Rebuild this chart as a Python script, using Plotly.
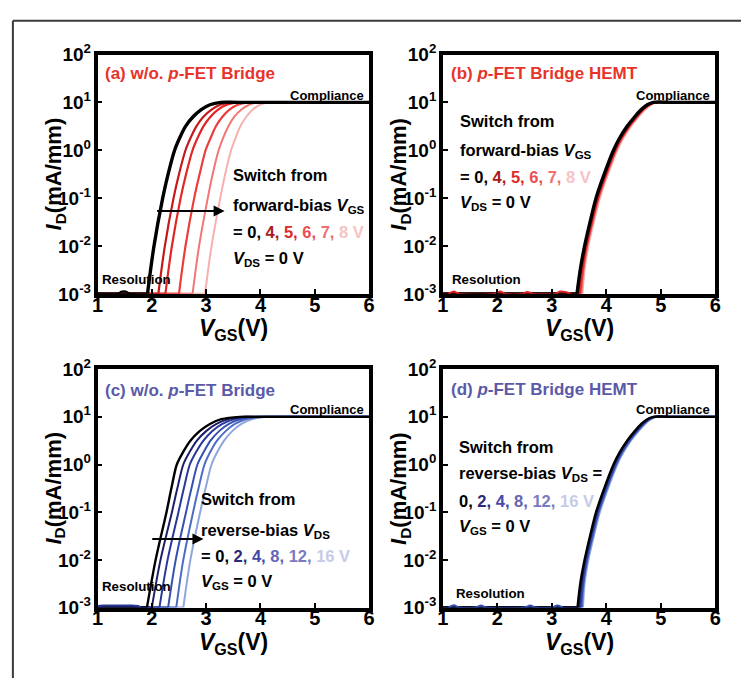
import plotly.graph_objects as go

W, H = 747, 689
FONT = "Liberation Sans"

# ---------------- data ----------------
# log10 of I_D (mA/mm) at which the V_GS values below were read
a_logI = [-3, -2, -1, -0.5, 0, 0.25, 0.5, 0.7, 0.85, 0.95, 1, 1, 1]
# Panel (a): w/o p-FET bridge, switch from forward-bias VGS (V)
a_V = {
    "0": [1.92, 2.04, 2.20, 2.30, 2.42, 2.51, 2.62, 2.76, 2.91, 3.07, 3.27, 3.6, 6.0],
    "4": [2.12, 2.24, 2.40, 2.50, 2.62, 2.71, 2.82, 2.95, 3.10, 3.26, 3.45, 3.8, 6.0],
    "5": [2.25, 2.37, 2.53, 2.63, 2.75, 2.84, 2.95, 3.08, 3.22, 3.38, 3.57, 3.9, 6.0],
    "6": [2.50, 2.62, 2.78, 2.88, 2.99, 3.08, 3.18, 3.30, 3.43, 3.58, 3.77, 4.1, 6.0],
    "7": [2.75, 2.87, 3.03, 3.12, 3.23, 3.31, 3.41, 3.52, 3.65, 3.79, 3.97, 4.3, 6.0],
    "8": [2.98, 3.10, 3.26, 3.35, 3.46, 3.54, 3.63, 3.74, 3.86, 3.99, 4.16, 4.5, 6.0],
}
a_noise_V = [1.0, 1.35, 1.45, 1.52, 1.6, 1.7]
a_noise_I = [1e-3, 1e-3, 1.12e-3, 1.12e-3, 1e-3, 1e-3]

# Panel (b): p-FET bridge HEMT, forward-bias VGS
b_logI = [-3, -2.5, -2, -1.5, -1, -0.5, 0, 0.25, 0.5, 0.7, 0.85, 0.95, 1, 1, 1]
b_V = {
    "0": [3.46, 3.52, 3.60, 3.70, 3.81, 3.96, 4.13, 4.24, 4.38, 4.52, 4.64, 4.75, 4.86, 5.2, 6.0],
    "4": [3.48, 3.54, 3.62, 3.72, 3.83, 3.98, 4.15, 4.26, 4.40, 4.54, 4.66, 4.77, 4.88, 5.2, 6.0],
    "5": [3.50, 3.55, 3.63, 3.73, 3.84, 3.99, 4.16, 4.27, 4.41, 4.55, 4.67, 4.78, 4.89, 5.2, 6.0],
    "6": [3.52, 3.57, 3.64, 3.74, 3.85, 4.00, 4.17, 4.28, 4.42, 4.56, 4.68, 4.79, 4.90, 5.2, 6.0],
    "7": [3.54, 3.58, 3.65, 3.75, 3.86, 4.01, 4.18, 4.29, 4.43, 4.57, 4.69, 4.80, 4.91, 5.2, 6.0],
    "8": [3.56, 3.60, 3.67, 3.77, 3.88, 4.03, 4.20, 4.31, 4.45, 4.59, 4.71, 4.82, 4.93, 5.2, 6.0],
}
b_noise_V = [1.1, 1.2, 1.3, 1.95, 2.05, 2.15, 2.45, 2.55, 2.65, 3.05, 3.15, 3.25, 3.35]
b_noise_I = [1e-3, 1.12e-3, 1e-3, 1e-3, 1.12e-3, 1e-3, 1e-3, 1.1e-3, 1e-3, 1e-3, 1.12e-3, 1.1e-3, 1e-3]

# Panel (c): w/o p-FET bridge, switch from reverse-bias VDS
c_logI = [-3, -2, -1, -0.5, 0, 0.25, 0.5, 0.7, 0.85, 0.95, 1, 1, 1]
c_V = {
    "0":  [1.91, 2.07, 2.27, 2.36, 2.46, 2.57, 2.71, 2.88, 3.07, 3.28, 3.62, 3.9, 6.0],
    "2":  [2.00, 2.16, 2.37, 2.47, 2.58, 2.69, 2.83, 3.00, 3.19, 3.40, 3.74, 4.0, 6.0],
    "4":  [2.14, 2.29, 2.49, 2.59, 2.70, 2.81, 2.95, 3.11, 3.30, 3.51, 3.85, 4.1, 6.0],
    "8":  [2.30, 2.44, 2.63, 2.73, 2.84, 2.95, 3.08, 3.24, 3.42, 3.62, 3.95, 4.2, 6.0],
    "12": [2.45, 2.58, 2.76, 2.86, 2.97, 3.07, 3.20, 3.36, 3.53, 3.73, 4.05, 4.3, 6.0],
    "16": [2.58, 2.71, 2.89, 2.99, 3.10, 3.20, 3.33, 3.48, 3.65, 3.84, 4.16, 4.4, 6.0],
}
c_noise_V = [1.0, 1.1, 1.5, 1.75, 1.8]
c_noise_I = [1.08e-3, 1.1e-3, 1.1e-3, 1.08e-3, 1e-3]

# Panel (d): p-FET bridge HEMT, reverse-bias VDS
d_logI = [-3, -2.5, -2, -1.5, -1, -0.5, 0, 0.25, 0.5, 0.7, 0.85, 0.95, 1, 1, 1]
d_V = {
    "0":  [3.47, 3.52, 3.60, 3.70, 3.81, 3.96, 4.13, 4.24, 4.38, 4.52, 4.64, 4.75, 4.86, 5.2, 6.0],
    "2":  [3.49, 3.54, 3.61, 3.71, 3.82, 3.97, 4.14, 4.25, 4.39, 4.53, 4.65, 4.76, 4.87, 5.2, 6.0],
    "4":  [3.51, 3.55, 3.62, 3.72, 3.83, 3.98, 4.15, 4.26, 4.40, 4.54, 4.66, 4.77, 4.88, 5.2, 6.0],
    "8":  [3.53, 3.57, 3.64, 3.74, 3.85, 4.00, 4.17, 4.28, 4.42, 4.56, 4.68, 4.79, 4.90, 5.2, 6.0],
    "12": [3.55, 3.58, 3.65, 3.75, 3.86, 4.01, 4.18, 4.29, 4.43, 4.57, 4.69, 4.80, 4.91, 5.2, 6.0],
    "16": [3.57, 3.60, 3.67, 3.77, 3.88, 4.03, 4.20, 4.31, 4.45, 4.59, 4.71, 4.82, 4.93, 5.2, 6.0],
}
d_noise_V = [1.1, 1.2, 1.3, 1.6, 1.7, 1.8, 2.5, 2.6, 2.7, 3.0, 3.1, 3.2]
d_noise_I = [1e-3, 1.12e-3, 1e-3, 1e-3, 1.1e-3, 1e-3, 1e-3, 1.1e-3, 1e-3, 1e-3, 1.1e-3, 1e-3]

x_ticks = [1, 2, 3, 4, 5, 6]
y_ticks = [1e-3, 1e-2, 1e-1, 1, 10, 100]
y_ticktext = ["10<sup>-3</sup>", "10<sup>-2</sup>", "10<sup>-1</sup>",
              "10<sup>0</sup>", "10<sup>1</sup>", "10<sup>2</sup>"]

# ---------------- styles ----------------
red_cols = {"0": "#000000", "4": "#c41a1a", "5": "#e32424", "6": "#ec3c3c",
            "7": "#f27676", "8": "#f7b0b0"}
red_w = {"0": 3.4, "4": 2.2, "5": 2.2, "6": 2.2, "7": 2.0, "8": 2.0}
blue_cols = {"0": "#000000", "2": "#1c1f6a", "4": "#28379a", "8": "#3550b0",
             "12": "#4d6cc4", "16": "#8fa6dc"}
blue_w = {"0": 2.4, "2": 2.0, "4": 2.0, "8": 2.0, "12": 2.0, "16": 2.0}


def px(x):
    return x / W


def py(y):
    return 1 - y / H


fig = go.Figure()

panels = [
    ("x", "y", a_V, a_logI, red_cols, red_w, a_noise_V, a_noise_I, "#000000"),
    ("x2", "y2", b_V, b_logI, red_cols, red_w, b_noise_V, b_noise_I, "#e32424"),
    ("x3", "y3", c_V, c_logI, blue_cols, blue_w, c_noise_V, c_noise_I, "#28379a"),
    ("x4", "y4", d_V, d_logI, blue_cols, blue_w, d_noise_V, d_noise_I, "#3550b0"),
]

for xa, ya, Vd, L, cols, ws, nV, nI, ncol in panels:
    Ivals = [10 ** v for v in L]
    keys = list(Vd.keys())
    for k in reversed(keys):
        # resolution-limited baseline up to the turn-on point
        fig.add_trace(go.Scatter(x=[1.0, Vd[k][0]], y=[Ivals[0], Ivals[0]],
                                 xaxis=xa, yaxis=ya, mode="lines",
                                 line=dict(color=cols[k], width=ws[k]),
                                 showlegend=False, hoverinfo="skip"))
    fig.add_trace(go.Scatter(x=nV, y=nI, xaxis=xa, yaxis=ya, mode="lines",
                             line=dict(color=ncol, width=2, shape="spline"),
                             showlegend=False, hoverinfo="skip"))
    for k in reversed(keys):
        fig.add_trace(go.Scatter(x=Vd[k], y=Ivals, xaxis=xa, yaxis=ya, mode="lines",
                                 line=dict(color=cols[k], width=ws[k],
                                           shape="spline", smoothing=0.9),
                                 showlegend=False, hoverinfo="skip"))

# axis geometry (pixels)
geom = {
    "1": (93, 369, 43, 291),
    "2": (444, 721, 43, 291),
    "3": (93, 369, 369, 616),
    "4": (444, 721, 369, 616),
}

layout = dict(
    width=W, height=H, margin=dict(l=0, r=0, t=0, b=0),
    paper_bgcolor="white", plot_bgcolor="white", showlegend=False,
    font=dict(family=FONT, color="black"),
)
for i, (l, r, t, b) in geom.items():
    suf = "" if i == "1" else i
    layout["xaxis" + suf] = dict(
        domain=[px(l), px(r)], range=[1, 6], anchor="y" + suf,
        showline=True, linecolor="black", linewidth=3.5, mirror=True,
        ticks="inside", ticklen=5, tickwidth=2, tickcolor="black",
        tickvals=x_ticks, ticktext=["<b>%d</b>" % v for v in x_ticks],
        tickfont=dict(family=FONT, size=20, color="black"),
        ticklabelstandoff=-10,
        showgrid=False, zeroline=False,
    )
    layout["yaxis" + suf] = dict(
        domain=[py(b), py(t)], type="log", range=[-3, 2], anchor="x" + suf,
        showline=True, linecolor="black", linewidth=3.5, mirror=True,
        ticks="inside", ticklen=5, tickwidth=2, tickcolor="black",
        tickvals=y_ticks, ticktext=["<b>%s</b>" % s for s in y_ticktext],
        tickfont=dict(family=FONT, size=19, color="black"),
        ticklabelstandoff=-1,
        showgrid=False, zeroline=False,
    )
fig.update_layout(**layout)

ann = []


def text(x, y, s, size=16.5, color="black", xanchor="left", angle=0):
    ann.append(dict(x=px(x), y=py(y), xref="paper", yref="paper", text=s,
                    showarrow=False, xanchor=xanchor, yanchor="middle",
                    textangle=angle,
                    font=dict(family=FONT, size=size, color=color)))


RED = "#e8332a"
BLUE = "#5a5aa8"

for i, (l, r, t, b) in geom.items():
    text((l + r) / 2, b + 37, "<b><i>V</i><sub>GS</sub>(V)</b>", size=23,
         xanchor="center")
    text(l - 43, (t + b) / 2, "<b><i>I</i><sub>D</sub>(mA/mm)</b>", size=22,
         xanchor="center", angle=-90)
    text(r - 3, t + 42, "<b>Compliance</b>", size=13, xanchor="right")

text(99, 63, "<b>(a) w/o. <i>p</i>-FET Bridge</b>", size=17, color=RED)
text(450, 63, "<b>(b) <i>p</i>-FET Bridge HEMT</b>", size=17, color=RED)
text(99, 391, "<b>(c) w/o. <i>p</i>-FET Bridge</b>", size=17, color=BLUE)
text(450, 390, "<b>(d) <i>p</i>-FET Bridge HEMT</b>", size=17, color=BLUE)

text(96, 276, "<b>Resolution</b>", size=13.3)
text(451, 276, "<b>Resolution</b>", size=13.3)
text(96, 594, "<b>Resolution</b>", size=13.3)
text(455, 601, "<b>Resolution</b>", size=13.3)

fwd_vals = ("<b>= 0, <span style='color:#a81c1c'>4,</span> "
            "<span style='color:#e02a2a'>5,</span> "
            "<span style='color:#e85050'>6,</span> "
            "<span style='color:#ee7070'>7,</span> "
            "<span style='color:#f6c4c4'>8 V</span></b>")
rev_vals_c = ("<b>= 0, <span style='color:#2a2a78'>2,</span> "
              "<span style='color:#4848a8'>4,</span> "
              "<span style='color:#6464b4'>8,</span> "
              "<span style='color:#7a7ac2'>12,</span> "
              "<span style='color:#c6cbe8'>16 V</span></b>")
rev_vals_d = ("<b>0, <span style='color:#2a2a78'>2,</span> "
              "<span style='color:#4848a8'>4,</span> "
              "<span style='color:#6464b4'>8,</span> "
              "<span style='color:#7a7ac2'>12,</span> "
              "<span style='color:#c6cbe8'>16 V</span></b>")

# panel (a) legend text
text(229, 168, "<b>Switch from</b>")
text(229, 200, "<b>forward-bias <i>V</i><sub>GS</sub></b>")
text(229, 227, fwd_vals)
text(229, 255, "<b><i>V</i><sub>DS</sub> = 0 V</b>")
# panel (b)
text(459, 112, "<b>Switch from</b>")
text(459, 143, "<b>forward-bias <i>V</i><sub>GS</sub></b>")
text(459, 170, fwd_vals)
text(459, 197, "<b><i>V</i><sub>DS</sub> = 0 V</b>")
# panel (c)
text(196, 504, "<b>Switch from</b>")
text(196, 537, "<b>reverse-bias <i>V</i><sub>DS</sub></b>")
text(196, 563, rev_vals_c)
text(196, 590, "<b><i>V</i><sub>GS</sub> = 0 V</b>")
# panel (d)
text(458, 450, "<b>Switch from</b>")
text(458, 478, "<b>reverse-bias <i>V</i><sub>DS</sub> =</b>")
text(458, 506, rev_vals_d)
text(458, 533, "<b><i>V</i><sub>GS</sub> = 0 V</b>")

# arrows (data coordinates; log axis uses log10 units)
arrow_a = dict(x0=2.07, x1=3.34, logI=-1.27)
arrow_c = dict(x0=1.98, x1=2.95, logI=-1.56)
for (xr, yr), a in ((("x", "y"), arrow_a), (("x3", "y3"), arrow_c)):
    ann.append(dict(x=a["x1"], y=a["logI"], ax=a["x0"], ay=a["logI"],
                    xref=xr, yref=yr, axref=xr, ayref=yr, text="",
                    showarrow=True, arrowhead=2, arrowsize=1.1, arrowwidth=2,
                    arrowcolor="black"))

fig.update_layout(annotations=ann)

# outer frame (left and top border lines)
fig.update_layout(shapes=[
    dict(type="line", xref="paper", yref="paper", x0=px(7), x1=px(7),
         y0=0, y1=py(8), line=dict(color="#3a3a3a", width=2)),
    dict(type="line", xref="paper", yref="paper", x0=px(7), x1=1,
         y0=py(8), y1=py(8), line=dict(color="#3a3a3a", width=2)),
])

fig.write_html("out.html")
